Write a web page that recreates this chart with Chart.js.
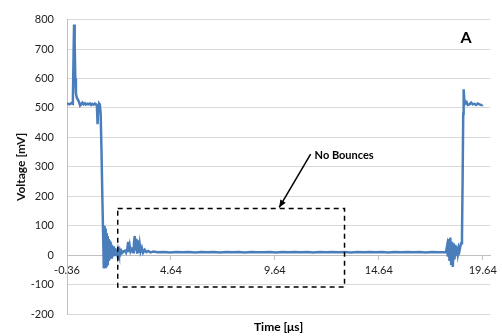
<!DOCTYPE html>
<html>
<head>
<meta charset="utf-8">
<script src="https://cdn.jsdelivr.net/npm/chart.js@4"></script>
<style>
    html, body { margin: 0; padding: 0; background: #fff; }
    #wrap { width: 502px; height: 336px; }
</style>
</head>
<body>
<div id="wrap"><canvas id="voltageChart"></canvas></div>
<script>
// Waveform (time in µs, voltage in mV)
const timeUs = [
    -0.36, -0.25, -0.15, -0.08, -0.04, -0.02, 0.01, 0.04, 0.07, 0.11,
    0.16, 0.22, 0.27, 0.32, 0.38, 0.44, 0.5, 0.56, 0.62, 0.68,
    0.74, 0.8, 0.86, 0.92, 0.98, 1.04, 1.08, 1.11, 1.14, 1.18,
    1.22, 1.26, 1.3, 1.34, 1.38, 1.41, 1.43, 1.45, 1.47, 1.49,
    1.51, 1.53, 1.55, 1.57, 1.59, 1.61, 1.63, 1.65, 1.67, 1.69,
    1.71, 1.73, 1.75, 1.77, 1.8, 1.83, 1.86, 1.89, 1.92, 1.95,
    1.98, 2.01, 2.04, 2.07, 2.1, 2.14, 2.18, 2.22, 2.26, 2.3,
    2.35, 2.42, 2.48, 2.54, 2.58, 2.62, 2.66, 2.7, 2.76, 2.82,
    2.86, 2.9, 2.94, 2.98, 3.02, 3.06, 3.1, 3.14, 3.18, 3.24,
    3.3, 3.38, 3.46, 3.55, 3.65, 3.8, 4.0, 4.3, 4.6, 4.9,
    5.2, 5.5, 5.8, 6.1, 6.4, 6.7, 7.0, 7.3, 7.6, 7.9,
    8.2, 8.5, 8.8, 9.1, 9.4, 9.7, 10.0, 10.3, 10.6, 10.9,
    11.2, 11.5, 11.8, 12.1, 12.4, 12.7, 13.0, 13.3, 13.6, 13.9,
    14.2, 14.5, 14.8, 15.1, 15.4, 15.7, 16.0, 16.3, 16.6, 16.9,
    17.2, 17.5, 17.7, 17.87, 17.92, 17.96, 18.0, 18.04, 18.08, 18.12,
    18.16, 18.2, 18.24, 18.28, 18.32, 18.36, 18.4, 18.44, 18.48, 18.52,
    18.56, 18.6, 18.64, 18.67, 18.7, 18.72, 18.75, 18.8, 18.86, 18.92,
    19.0, 19.08, 19.16, 19.24, 19.32, 19.4, 19.48, 19.56, 19.6
];
const voltageMv = [
    515, 512, 516, 514, 700, 783, 720, 600, 550, 535,
    528, 520, 508, 512, 518, 512, 516, 511, 514, 512,
    515, 510, 514, 511, 515, 512, 505, 445, 500, 515,
    510, 480, 350, 200, 60, -45, 100, -40, 90, -45,
    85, -35, 75, -30, 65, -25, 55, -20, 50, -15,
    45, -10, 40, -8, 35, -5, 30, -3, 25, 0,
    22, 2, 20, 4, 18, 5, 16, 6, 14, 8,
    12, 15, 8, 20, 45, 10, 30, 12, 20, 10,
    40, 65, 15, 55, 5, 50, 8, 35, 12, 25,
    8, 18, 10, 14, 9, 12, 10, 11, 9, 11,
    10, 11, 9, 11, 10, 11, 9, 11, 10, 11,
    9, 11, 10, 10, 11, 9, 11, 10, 11, 10,
    11, 9, 11, 10, 11, 10, 11, 9, 11, 10,
    11, 10, 11, 9, 11, 10, 11, 10, 11, 9,
    11, 10, 10, 10, 30, -5, 55, -20, 60, -30,
    45, -40, 40, -15, 35, 0, 30, 5, 25, 15,
    30, 40, 60, 250, 480, 563, 530, 515, 520, 510,
    512, 518, 512, 514, 510, 515, 512, 510, 512
];

// Dashed "no bounces" window
const boxTimeUs = [2.08, 12.99, 12.99, 2.08, 2.08];
const boxVoltageMv = [158, 158, -108, -108, 158];

const xTickValues = [-0.36, 4.64, 9.64, 14.64, 19.64];
const yMin = -200;
const yMax = 800;
const yStep = 100;

const arrowFrom = { t: 11.36, v: 343 };
const arrowTo = { t: 9.85, v: 162 };
const noteText = 'No Bounces';
const notePos = { t: 11.55, v: 337 };
const panelLabel = 'A';
const xTitle = 'Time [μs]';
const yTitle = 'Voltage [mV]';

const FONT = "Lato, 'Liberation Sans', sans-serif";

// Arrow, note, panel letter and x title drawn against the chart's scales
const annotationPlugin = {
    id: 'annotations',
    afterDatasetsDraw(chart) {
        const ctx = chart.ctx;
        const xs = chart.scales.x;
        const ys = chart.scales.y;
        const area = chart.chartArea;
        ctx.save();

        // arrow
        const x1 = xs.getPixelForValue(arrowFrom.t), y1 = ys.getPixelForValue(arrowFrom.v);
        const x2 = xs.getPixelForValue(arrowTo.t), y2 = ys.getPixelForValue(arrowTo.v);
        ctx.strokeStyle = '#000';
        ctx.fillStyle = '#000';
        ctx.lineWidth = 1.5;
        ctx.beginPath();
        ctx.moveTo(x1, y1);
        ctx.lineTo(x2, y2);
        ctx.stroke();
        const ang = Math.atan2(y2 - y1, x2 - x1);
        const head = 8;
        ctx.beginPath();
        ctx.moveTo(x2, y2);
        ctx.lineTo(x2 - head * Math.cos(ang - 0.4), y2 - head * Math.sin(ang - 0.4));
        ctx.lineTo(x2 - head * Math.cos(ang + 0.4), y2 - head * Math.sin(ang + 0.4));
        ctx.closePath();
        ctx.fill();

        // note text
        ctx.font = 'bold 11px ' + FONT;
        ctx.textAlign = 'left';
        ctx.textBaseline = 'middle';
        ctx.fillText(noteText, xs.getPixelForValue(notePos.t), ys.getPixelForValue(notePos.v));

        // panel letter
        ctx.font = 'bold 16px ' + FONT;
        ctx.textAlign = 'center';
        ctx.fillText(panelLabel, 466, 38);

        // x title under the plot
        ctx.font = 'bold 12px ' + FONT;
        ctx.fillText(xTitle, (area.left + area.right) / 2, 327);
        ctx.restore();
    }
};

new Chart(document.getElementById('voltageChart'), {
    type: 'line',
    data: {
        datasets: [{
            label: 'Voltage',
            data: timeUs.map((t, i) => ({ x: t, y: voltageMv[i] })),
            borderColor: '#4a7ebb',
            borderWidth: 2.5,
            pointRadius: 0,
            tension: 0,
            fill: false,
            order: 2
        }, {
            label: 'Window',
            data: boxTimeUs.map((t, i) => ({ x: t, y: boxVoltageMv[i] })),
            borderColor: '#000',
            borderWidth: 1.5,
            borderDash: [5, 4],
            pointRadius: 0,
            tension: 0,
            fill: false,
            order: 1
        }]
    },
    options: {
        responsive: true,
        maintainAspectRatio: false,
        animation: false,
        layout: {
            padding: { left: 0, top: 17, right: 10, bottom: 22 }
        },
        plugins: {
            legend: { display: false },
            tooltip: { enabled: false }
        },
        scales: {
            x: {
                type: 'linear',
                position: { y: 0 },
                min: -0.36,
                max: 20,
                afterBuildTicks: function(scale) {
                    scale.ticks = xTickValues.map(v => ({ value: v }));
                },
                grid: {
                    drawOnChartArea: false,
                    drawTicks: true,
                    tickLength: 4,
                    color: '#bfbfbf'
                },
                border: { display: true, color: '#bfbfbf' },
                ticks: {
                    padding: 5,
                    maxRotation: 0,
                    autoSkip: false,
                    color: '#222',
                    font: { family: FONT, size: 11 },
                    callback: function(value) {
                        return value.toFixed(2);
                    }
                }
            },
            y: {
                min: yMin,
                max: yMax,
                afterFit: function(scale) {
                    scale.width = 67;
                },
                grid: {
                    color: '#d9d9d9',
                    drawTicks: false
                },
                border: { display: true, color: '#bfbfbf' },
                ticks: {
                    stepSize: yStep,
                    padding: 13,
                    color: '#222',
                    font: { family: FONT, size: 11 }
                },
                title: {
                    display: true,
                    text: yTitle,
                    color: '#111',
                    font: { family: FONT, size: 12, weight: 'bold' },
                    padding: { top: 14, bottom: 0 }
                }
            }
        }
    },
    plugins: [annotationPlugin]
});
</script>
</body>
</html>
